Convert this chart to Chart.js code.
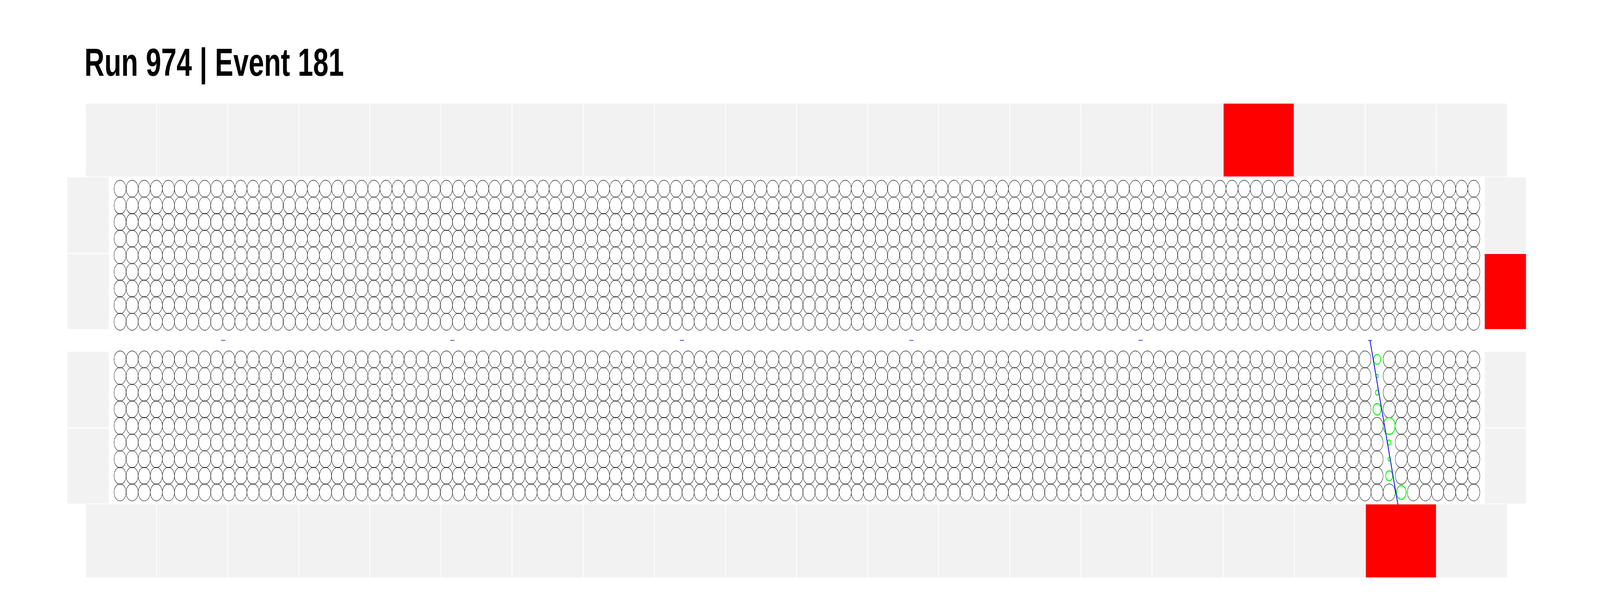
<!DOCTYPE html>
<html>
<head>
<meta charset="utf-8">
<title>Run 974 | Event 181</title>
<script src="https://cdn.jsdelivr.net/npm/chart.js@4.4.1/dist/chart.umd.min.js"></script>
<style>
  html, body { margin: 0; padding: 0; background: #fff; overflow: hidden; }
  /* drawn at the reference's 5796x1572 size, shown fitted to the window */
  #display { width: 100vw; height: 100vh; display: block; }
</style>
</head>
<body>
<canvas id="display" width="5796" height="1572" style="width:100vw;height:100vh"></canvas>
<script>
// ---- Event data (tube column / row units) ----
const runNumber = 974;
const eventNumber = 181;

const tubeColumns = Array.from({ length: 113 }, (_, i) => i);   // tubes per layer
const tubeRows = [0, 1, 2, 3, 4, 5, 6, 7, 8];                    // layers per chamber
const chambers = ["upper", "lower"];

// scintillator paddles that fired
const topPaddleHits = [16];
const bottomPaddleHits = [18];
const leftPaddleHits = [];
const rightPaddleHits = [1];          // 0,1 = upper chamber, 2,3 = lower chamber

// tube hits (lower chamber)
const hitColumns = [104, 104, 104, 104, 105, 105, 105, 105, 106];
const hitRows    = [0, 1, 2, 3, 4, 5, 6, 7, 8];
const hitCharge  = [0.58, 0.19, 0.29, 0.67, 0.99, 0.29, 0.20, 0.58, 0.81];

// reconstructed segments: start caps, only the last one has a track
const segmentStarts = [8.53, 27.5, 46.48, 65.47, 84.44, 103.41];
const trackX = [103.41, 105.72];
const trackY = [9.12, 18.985];

// ---- Geometry (layout, not data) ----
const geo = {
  chamberY: { upper: 0, lower: 10.265 },
  paddleX0: -2.831, paddlePitch: 5.883, paddleGap: 0.068, nPaddles: 20,
  topY: [-5.121, -0.738],
  bottomY: [18.985, 23.379],
  leftX: [-4.354, -0.944],
  rightX: [112.904, 116.315],
  sideY: [[-0.692, 3.862], [3.922, 8.443], [9.804, 14.348], [14.418, 18.939]],
  capHalf: 0.17
};
const tubeRadius = 21.8;
const paddleGrey = "#f2f2f2";
const paddleRed = "#ff0000";

// ---- Build datasets ----
const hitKey = new Set(hitColumns.map((c, i) => c + ":" + hitRows[i]));

const tubes = [];
chambers.forEach(ch => {
  tubeRows.forEach(r => {
    tubeColumns.forEach(c => {
      if (ch === "lower" && hitKey.has(c + ":" + r)) return;
      tubes.push({ x: c, y: geo.chamberY[ch] + r });
    });
  });
});

const hits = hitColumns.map((c, i) => ({ x: c, y: geo.chamberY.lower + hitRows[i] }));

const capSets = segmentStarts.map(x => ({
  data: [{ x: x - geo.capHalf, y: trackY[0] }, { x: x + geo.capHalf, y: trackY[0] }],
  showLine: true, borderColor: "#0000ff", borderWidth: 1.5,
  pointRadius: 0, clip: false, order: 0
}));

// ---- Paddles plugin: drawn through the chart scales ----
const paddlesPlugin = {
  id: "paddles",
  beforeDatasetsDraw(chart) {
    const { ctx, scales: { x, y } } = chart;
    function box(x0, x1, y0, y1, fill) {
      const px0 = x.getPixelForValue(x0), px1 = x.getPixelForValue(x1);
      const py0 = y.getPixelForValue(y0), py1 = y.getPixelForValue(y1);
      ctx.fillStyle = fill;
      ctx.fillRect(Math.min(px0, px1), Math.min(py0, py1), Math.abs(px1 - px0), Math.abs(py1 - py0));
    }
    ctx.save();
    for (let i = 0; i < geo.nPaddles; i++) {
      const x0 = geo.paddleX0 + i * geo.paddlePitch;
      const x1 = x0 + geo.paddlePitch - geo.paddleGap;
      box(x0, x1, geo.topY[0], geo.topY[1], topPaddleHits.includes(i) ? paddleRed : paddleGrey);
      box(x0, x1, geo.bottomY[0], geo.bottomY[1], bottomPaddleHits.includes(i) ? paddleRed : paddleGrey);
    }
    geo.sideY.forEach((yy, i) => {
      box(geo.leftX[0], geo.leftX[1], yy[0], yy[1], leftPaddleHits.includes(i) ? paddleRed : paddleGrey);
      box(geo.rightX[0], geo.rightX[1], yy[0], yy[1], rightPaddleHits.includes(i) ? paddleRed : paddleGrey);
    });
    ctx.restore();
  }
};

new Chart(document.getElementById("display"), {
  type: "scatter",
  data: {
    datasets: [
      {
        data: [{ x: trackX[0], y: trackY[0] }, { x: trackX[1], y: trackY[1] }],
        showLine: true, borderColor: "#0000ff", borderWidth: 2.8,
        pointRadius: 0, clip: false, order: 0
      },
      ...capSets,
      {
        data: hits,
        pointStyle: "circle",
        pointRadius: hitCharge.map(q => q * tubeRadius),
        borderColor: "#00ff00", borderWidth: 2.8,
        backgroundColor: "rgba(0,0,0,0)", clip: false, order: 1
      },
      {
        data: tubes,
        pointStyle: "circle",
        pointRadius: tubeRadius,
        borderColor: "#000000", borderWidth: 1.2,
        backgroundColor: "rgba(0,0,0,0)", clip: false, order: 2
      }
    ]
  },
  options: {
    responsive: false,
    devicePixelRatio: 1,
    animation: false,
    events: [],
    layout: { padding: { left: 306, right: 0, top: 0, bottom: 0 } },
    scales: {
      x: { type: "linear", min: -2.9445, max: 121.886, display: false },
      y: { type: "linear", min: -6.0438, max: 25.006, reverse: true, display: false }
    },
    plugins: {
      legend: { display: false },
      tooltip: { enabled: false },
      title: {
        display: true,
        text: "Run " + runNumber + " | Event " + eventNumber,
        align: "start",
        color: "#000000",
        font: { family: "'Liberation Sans', Arial, sans-serif", size: 100, weight: "bold", lineHeight: 1.2 },
        padding: { top: 106, bottom: 0 }
      }
    }
  },
  plugins: [paddlesPlugin]
});
</script>
</body>
</html>
